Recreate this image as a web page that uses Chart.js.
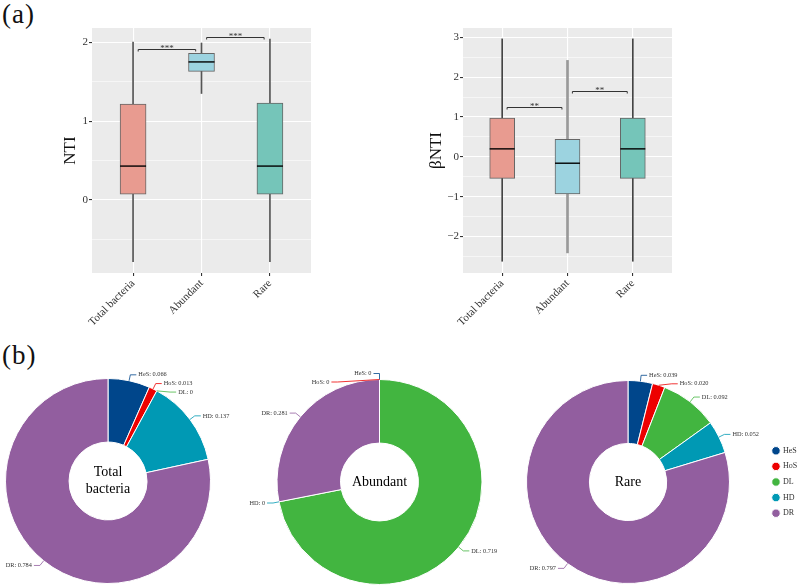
<!DOCTYPE html>
<html>
<head>
<meta charset="utf-8">
<script src="https://cdn.jsdelivr.net/npm/chart.js@4"></script>
<style>
  html, body { margin: 0; padding: 0; background: #fff; overflow: hidden; }
  #page { position: relative; width: 799px; height: 585px; overflow: hidden; }
  #page canvas, .tag { position: absolute; }
  .tag { font-family: 'Liberation Serif', serif; font-size: 27px; line-height: 1; letter-spacing: 1px; color: #111; }
</style>
</head>
<body>
<div id="page">
  <div class="tag" style="left:2px;top:1px">(a)</div>
  <div class="tag" style="left:2px;top:342px">(b)</div>
  <canvas id="nti" width="330" height="335" style="left:0;top:0"></canvas>
  <canvas id="beta" width="290" height="335" style="left:400px;top:0"></canvas>
  <canvas id="pieTotal" width="240" height="225" style="left:0;top:360px"></canvas>
  <canvas id="pieAbundant" width="280" height="225" style="left:240px;top:360px"></canvas>
  <canvas id="pieRare" width="330" height="225" style="left:480px;top:360px"></canvas>
</div>
<script>
// groups on the x axis of both box plots
var categories = ['Total bacteria', 'Abundant', 'Rare'];

// NTI box statistics (min, Q1, median, Q3, max)
var ntiMin    = [-0.78, 1.35, -0.78];
var ntiQ1     = [0.075, 1.63, 0.075];
var ntiMedian = [0.43, 1.75, 0.43];
var ntiQ3     = [1.215, 1.86, 1.23];
var ntiMax    = [2.00, 1.99, 2.04];
var ntiTicks  = [-0.5, 0, 0.5, 1, 1.5, 2];
var ntiSigY   = [1.92, 2.06];
var ntiSigText = ['***', '***'];

// betaNTI box statistics
var betaMin    = [-2.62, -2.41, -2.62];
var betaQ1     = [-0.54, -0.93, -0.54];
var betaMedian = [0.20, -0.16, 0.20];
var betaQ3     = [0.97, 0.44, 0.97];
var betaMax    = [2.96, 2.42, 2.96];
var betaTicks  = [-2.5, -2, -1.5, -1, -0.5, 0, 0.5, 1, 1.5, 2, 2.5, 3];
var betaSigY   = [1.26, 1.65];
var betaSigText = ['**', '**'];

// assembly processes and their relative importance
var processes = ['HeS', 'HoS', 'DL', 'HD', 'DR'];
var totalShares    = [0.066, 0.013, 0, 0.137, 0.784];
var abundantShares = [0, 0, 0.719, 0, 0.281];
var rareShares     = [0.039, 0.020, 0.092, 0.052, 0.797];

var boxFills = ['#E89B90', '#9CD3E0', '#75C5B9'];
var processColors = ['#00468B', '#ED0000', '#42B540', '#0099B4', '#925E9F'];
var serif = 'Liberation Serif';

Chart.defaults.font.family = serif;

function fmtTick(v) {
  if (!Number.isInteger(v)) return '';
  return v < 0 ? '\u2212' + (-v) : String(v);
}

// grey panel, medians and significance brackets
var boxExtras = {
  id: 'boxExtras',
  beforeDraw: function(chart) {
    var ctx = chart.ctx, a = chart.chartArea;
    ctx.save();
    ctx.fillStyle = '#EBEBEB';
    ctx.fillRect(a.left, a.top, a.width, a.height);
    ctx.restore();
  },
  afterDatasetsDraw: function(chart, args, o) {
    var ctx = chart.ctx, x = chart.scales.x, y = chart.scales.y;
    ctx.save();
    ctx.strokeStyle = '#000';
    ctx.lineWidth = 1.4;
    o.medians.forEach(function(m, i) {
      var px = x.getPixelForValue(i + 1), py = y.getPixelForValue(m);
      ctx.beginPath();
      ctx.moveTo(px - o.half, py);
      ctx.lineTo(px + o.half, py);
      ctx.stroke();
    });
    ctx.strokeStyle = '#333';
    ctx.fillStyle = '#333';
    ctx.lineWidth = 1;
    ctx.font = '9px "' + serif + '"';
    ctx.textAlign = 'center';
    ctx.textBaseline = 'alphabetic';
    o.sigY.forEach(function(v, i) {
      var x1 = x.getPixelForValue(i + 1.075), x2 = x.getPixelForValue(i + 1.915);
      var py = Math.round(y.getPixelForValue(v)) + 0.5;
      ctx.beginPath();
      ctx.moveTo(x1, py + 2);
      ctx.lineTo(x1, py);
      ctx.lineTo(x2, py);
      ctx.lineTo(x2, py + 2);
      ctx.stroke();
      ctx.fillText(o.sigText[i], (x1 + x2) / 2, py + 1.5);
    });
    ctx.restore();
  }
};

function boxChart(id, o) {
  var datasets = [{
    data: categories.map(function(c, i) { return {x: i + 1, y: [o.q1[i], o.q3[i]]}; }),
    backgroundColor: boxFills,
    borderColor: '#666',
    borderWidth: 1,
    borderSkipped: false,
    barThickness: o.boxWidth,
    grouped: false,
    order: 0
  }];
  categories.forEach(function(c, i) {
    datasets.push({
      data: [{x: i + 1, y: [o.min[i], o.max[i]]}],
      backgroundColor: o.whiskerColors[i],
      barThickness: o.whiskerWidths[i],
      grouped: false,
      order: 1
    });
  });
  return new Chart(document.getElementById(id), {
    type: 'bar',
    data: {datasets: datasets},
    options: {
      responsive: false,
      animation: false,
      layout: {padding: o.padding},
      plugins: {
        legend: {display: false},
        tooltip: {enabled: false},
        boxExtras: {medians: o.median, half: o.boxWidth / 2, sigY: o.sigY, sigText: o.sigText}
      },
      scales: {
        x: {
          type: 'linear', min: 0.4, max: 3.6, offset: false,
          afterBuildTicks: function(s) { s.ticks = categories.map(function(c, i) { return {value: i + 1}; }); },
          ticks: {
            callback: function(v) { return categories[v - 1]; },
            minRotation: 45, maxRotation: 45, autoSkip: false, padding: 1,
            color: '#333', font: {family: serif, size: 11}
          },
          grid: {offset: false, color: '#fff', lineWidth: 1.1, tickLength: 3, tickColor: '#333'},
          border: {display: false},
          afterFit: function(s) { s.height = o.xHeight; }
        },
        y: {
          min: o.yMin, max: o.yMax,
          afterBuildTicks: function(s) { s.ticks = o.ticks.map(function(v) { return {value: v}; }); },
          ticks: {callback: fmtTick, padding: 1, color: '#333', font: {family: serif, size: 11}},
          grid: {
            color: '#fff',
            lineWidth: function(c) { return Number.isInteger(c.tick.value) ? 1.1 : 0.55; },
            tickLength: 3,
            tickColor: function(c) { return Number.isInteger(c.tick.value) ? '#333' : 'rgba(0,0,0,0)'; }
          },
          border: {display: false},
          title: {display: true, text: o.title, color: '#111', padding: 0, font: {family: serif, size: 17}},
          afterFit: function(s) { s.width = o.yWidth; }
        }
      }
    },
    plugins: [boxExtras]
  });
}

boxChart('nti', {
  min: ntiMin, q1: ntiQ1, median: ntiMedian, q3: ntiQ3, max: ntiMax,
  ticks: ntiTicks, yMin: -0.925, yMax: 2.18, title: 'NTI',
  sigY: ntiSigY, sigText: ntiSigText,
  boxWidth: 26, whiskerColors: ['#555', '#555', '#555'], whiskerWidths: [1, 1, 1],
  padding: {top: 28, left: 60, right: 19, bottom: 0}, yWidth: 32, xHeight: 62
});

boxChart('beta', {
  min: betaMin, q1: betaQ1, median: betaMedian, q3: betaQ3, max: betaMax,
  ticks: betaTicks, yMin: -2.915, yMax: 3.233, title: '\u03B2NTI',
  sigY: betaSigY, sigText: betaSigText,
  boxWidth: 25, whiskerColors: ['#444', '#999', '#444'], whiskerWidths: [1, 2, 1],
  padding: {top: 28, left: 26, right: 18, bottom: 0}, yWidth: 37, xHeight: 62
});

// leader-line labels and centre title for the doughnuts
var sliceLabels = {
  id: 'sliceLabels',
  afterDatasetsDraw: function(chart, args, o) {
    var ctx = chart.ctx;
    var meta = chart.getDatasetMeta(0);
    var ds = chart.data.datasets[0];
    var first = meta.data[0];
    var cx = first.x, cy = first.y, r = first.outerRadius, R = r + 6;
    var items = meta.data.map(function(arc, i) {
      var mid = (arc.startAngle + arc.endAngle) / 2;
      return {
        i: i, right: Math.cos(mid) > 1e-3,
        y: cy + Math.sin(mid) * R,
        x0: cx + Math.cos(mid) * r, y0: cy + Math.sin(mid) * r
      };
    });
    [true, false].forEach(function(side) {
      var list = items.filter(function(t) { return t.right === side; })
        .sort(function(a, b) { return (a.y - b.y) || (a.i - b.i); });
      for (var k = 1; k < list.length; k++) {
        if (list[k].y < list[k - 1].y + o.gap) list[k].y = list[k - 1].y + o.gap;
      }
    });
    ctx.save();
    ctx.font = '6.3px "' + serif + '"';
    ctx.textBaseline = 'middle';
    ctx.lineWidth = 0.8;
    items.forEach(function(t) {
      var dy = t.y - cy;
      var dx = Math.sqrt(Math.max(R * R - dy * dy, 0));
      var dir = t.right ? 1 : -1;
      var x1 = cx + dir * dx, x2 = x1 + dir * 6;
      ctx.strokeStyle = ds.backgroundColor[t.i];
      ctx.beginPath();
      ctx.moveTo(t.x0, t.y0);
      ctx.lineTo(x1, t.y);
      ctx.lineTo(x2, t.y);
      ctx.stroke();
      var v = ds.data[t.i];
      ctx.fillStyle = '#333';
      ctx.textAlign = t.right ? 'left' : 'right';
      ctx.fillText(chart.data.labels[t.i] + ': ' + (v === 0 ? '0' : v.toFixed(3)), x2 + dir * 2, t.y);
    });
    ctx.fillStyle = '#000';
    ctx.font = '14px "' + serif + '"';
    ctx.textAlign = 'center';
    o.title.forEach(function(line, k) {
      ctx.fillText(line, cx, cy + (k - (o.title.length - 1) / 2) * 17);
    });
    ctx.restore();
  }
};

function pieChart(id, shares, title, padding, showLegend) {
  return new Chart(document.getElementById(id), {
    type: 'doughnut',
    data: {
      labels: processes,
      datasets: [{data: shares, backgroundColor: processColors, borderColor: '#fff', borderWidth: 1}]
    },
    options: {
      responsive: false,
      animation: false,
      cutout: '38%',
      layout: {padding: padding},
      plugins: {
        tooltip: {enabled: false},
        legend: {
          display: showLegend,
          position: 'right',
          labels: {
            usePointStyle: true, pointStyle: 'circle', boxWidth: 6, boxHeight: 6,
            padding: 7.6, color: '#333', font: {family: serif, size: 8}
          }
        },
        sliceLabels: {title: title, gap: 8.5}
      }
    },
    plugins: [sliceLabels]
  });
}

pieChart('pieTotal', totalShares, ['Total', 'bacteria'], {top: 18, left: 5, right: 29, bottom: 1}, false);
pieChart('pieAbundant', abundantShares, ['Abundant'], {top: 19, left: 36.5, right: 37.5, bottom: 0}, false);
pieChart('pieRare', rareShares, ['Rare'], {top: 20, left: 10.6, right: 2.8, bottom: 1}, true);
</script>
</body>
</html>
